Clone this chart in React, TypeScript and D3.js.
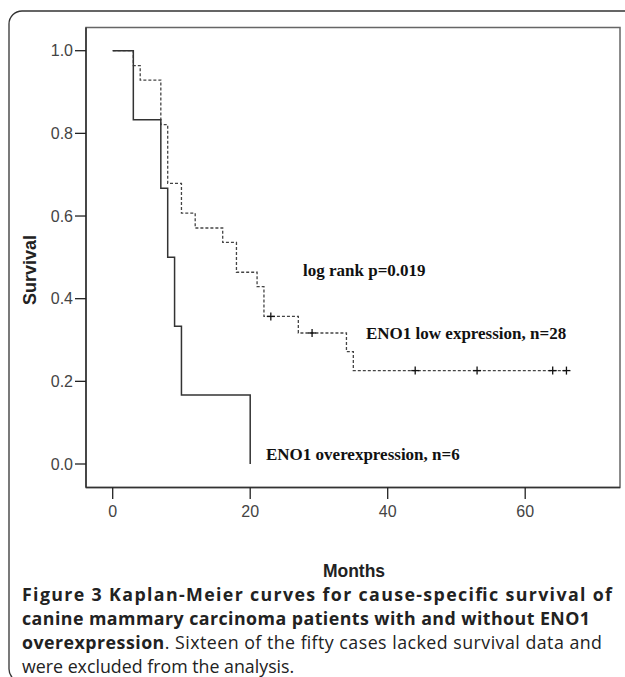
import React from "react";
import * as d3 from "d3";

const overTimes = [0, 3, 7, 8, 9, 10, 20];
const overSurv = [1, 0.833, 0.667, 0.5, 0.333, 0.167, 0];
const lowTimes = [0, 3, 4, 7, 8, 10, 12, 16, 18, 21, 22, 27, 34, 35, 66];
const lowSurv = [1, 0.964, 0.929, 0.821, 0.679, 0.607, 0.571, 0.536, 0.464, 0.429, 0.357, 0.317, 0.272, 0.226, 0.226];
const lowCensor = [23, 29, 44, 53, 64, 66];
const xTicks = [0, 20, 40, 60];
const yTicks = [0, 0.2, 0.4, 0.6, 0.8, 1.0];
const captionBold1 = "Figure 3 Kaplan-Meier curves for cause-specific survival of";
const captionBold2 = "canine mammary carcinoma patients with and without ENO1";
const captionBold3 = "overexpression";
const captionRest3 = ". Sixteen of the fifty cases lacked survival data and";
const captionLine4 = "were excluded from the analysis.";

export default function App() {
  const W = 625, H = 677;
  const frame = { left: 86, right: 620, top: 27.5, bottom: 487.5 };
  const x = d3.scaleLinear().domain([0, 20]).range([112.7, 250.2]);
  const y = d3.scaleLinear().domain([0, 1]).range([464, 50.7]);
  const line = d3.line<[number, number]>().x(d => x(d[0])).y(d => y(d[1])).curve(d3.curveStepAfter);
  const overPts: [number, number][] = overTimes.map((t, i) => [t, overSurv[i]]);
  const lowPts: [number, number][] = lowTimes.map((t, i) => [t, lowSurv[i]]);
  const survAt = (t: number) => {
    let s = 1;
    lowTimes.forEach((tt, i) => { if (tt <= t) s = lowSurv[i]; });
    return s;
  };
  const sans = "'Liberation Sans', Arial, sans-serif";
  const serif = "'Liberation Serif', 'Times New Roman', serif";
  const cap = "'Open Sans', 'Noto Sans', sans-serif";
  const capSize = 17.8;
  return (
    <svg width={W} height={H} style={{ position: "absolute", left: 0, top: 0 }}>
      <rect x={9} y={11} width={660} height={671} rx={13} fill="none" stroke="#333" strokeWidth={1.3} />
      <rect x={frame.left} y={frame.top} width={frame.right - frame.left} height={frame.bottom - frame.top} fill="none" stroke="#666" strokeWidth={1.5} />
      <line x1={frame.left} x2={frame.left} y1={frame.top} y2={frame.bottom} stroke="#222" strokeWidth={1.3} />
      <line x1={frame.left} x2={frame.right} y1={frame.bottom} y2={frame.bottom} stroke="#333" strokeWidth={1.3} />
      {yTicks.map(t => (
        <g key={t}>
          <line x1={75} x2={frame.left} y1={y(t)} y2={y(t)} stroke="#222" strokeWidth={1.3} />
          <text x={73} y={y(t)} dy="0.35em" textAnchor="end" fontFamily={sans} fontSize={16} fill="#444">{t.toFixed(1)}</text>
        </g>
      ))}
      {xTicks.map(t => (
        <g key={t}>
          <line x1={x(t)} x2={x(t)} y1={frame.bottom} y2={499} stroke="#222" strokeWidth={1.3} />
          <text x={x(t)} y={517} textAnchor="middle" fontFamily={sans} fontSize={16} fill="#444">{t}</text>
        </g>
      ))}
      <text transform="translate(36,270) rotate(-90)" textAnchor="middle" fontFamily={sans} fontWeight="bold" fontSize={18} fill="#222">Survival</text>
      <text x={354} y={577} textAnchor="middle" fontFamily={sans} fontWeight="bold" fontSize={17.5} fill="#222">Months</text>
      <path d={line(lowPts) || ""} fill="none" stroke="#444" strokeWidth={1.3} strokeDasharray="3,2" />
      <path d={line(overPts) || ""} fill="none" stroke="#333" strokeWidth={1.5} />
      {lowCensor.map(t => (
        <g key={t} stroke="#111" strokeWidth={1.3}>
          <line x1={x(t) - 4} x2={x(t) + 4} y1={y(survAt(t))} y2={y(survAt(t))} />
          <line x1={x(t)} x2={x(t)} y1={y(survAt(t)) - 4} y2={y(survAt(t)) + 4} />
        </g>
      ))}
      <text x={303} y={276} fontFamily={serif} fontWeight="bold" fontSize={17} fill="#111">log rank p=0.019</text>
      <text x={366} y={339} fontFamily={serif} fontWeight="bold" fontSize={17} fill="#111">ENO1 low expression, n=28</text>
      <text x={266} y={460} fontFamily={serif} fontWeight="bold" fontSize={17} fill="#111">ENO1 overexpression, n=6</text>
      <text x={22} y={601} fontFamily={cap} fontWeight="bold" fontSize={capSize} fill="#222" textLength={590} lengthAdjust="spacing">{captionBold1}</text>
      <text x={22} y={625} fontFamily={cap} fontWeight="bold" fontSize={capSize} fill="#222" textLength={568} lengthAdjust="spacing">{captionBold2}</text>
      <text x={22} y={649} fontFamily={cap} fontSize={capSize} fill="#222" textLength={580} lengthAdjust="spacing">
        <tspan fontWeight="bold">{captionBold3}</tspan>
        <tspan>{captionRest3}</tspan>
      </text>
      <text x={22} y={673} fontFamily={cap} fontSize={capSize} fill="#222">{captionLine4}</text>
    </svg>
  );
}
